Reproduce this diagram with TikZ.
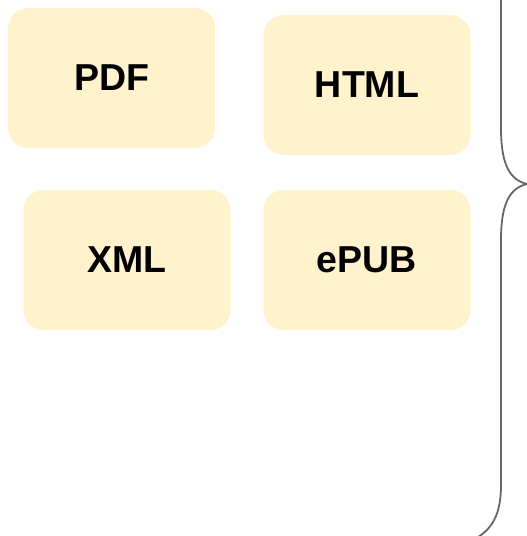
\documentclass[tikz,border=0pt]{standalone}
\usepackage{fontspec}
\setmainfont{Liberation Sans}
\usetikzlibrary{positioning}
\definecolor{fmtfill}{HTML}{FFF2CC}
\definecolor{bracegray}{HTML}{666666}

\begin{document}
\begin{tikzpicture}[x=1pt,y=-1pt,
	line width=1.8pt,line cap=round,line join=round,
	fmt/.style={rectangle,rounded corners=20pt,fill=fmtfill,outer sep=0pt,
		minimum width=207pt,minimum height=140pt,
		font=\bfseries\fontsize{37.5}{40}\selectfont}]
	
	\clip (0,0) rectangle (527,536);
	
	% output formats
	\node [fmt] (pdf) at (111.5,78) {PDF};
	\node [fmt] (html) at (367,85) {HTML};
	\node [fmt,below=35pt of html] (epub) {ePUB};
	\node [fmt,left=33pt of epub] (xml) {XML};
	
	% brace
	\draw [bracegray]
	(501,-5) -- (501,128)
	.. controls (501,165) and (510,180) .. (527,184)
	.. controls (510,188) and (501,203) .. (501,240)
	-- (501,485)
	.. controls (501,515) and (492,530) .. (473,540);
\end{tikzpicture}
\end{document}
